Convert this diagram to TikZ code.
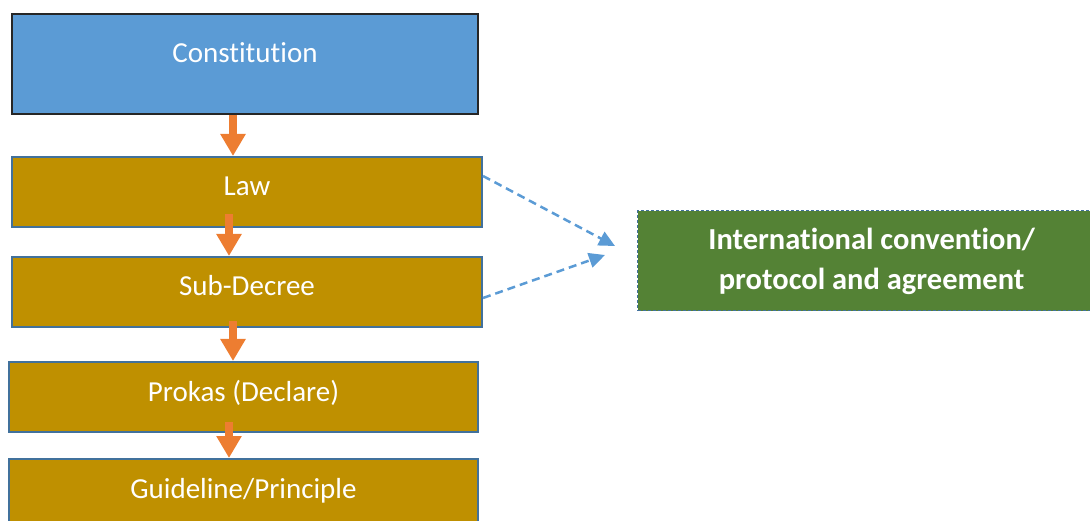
\documentclass[tikz,border=0pt]{standalone}
\usepackage{fontspec}
\setmainfont[Ligatures=NoCommon]{Carlito}
\usetikzlibrary{arrows.meta,positioning}
\usepackage{xcolor}
\definecolor{constblue}{HTML}{5B9BD5}
\definecolor{gold}{HTML}{BF9000}
\definecolor{edgeblue}{HTML}{41719C}
\definecolor{intgreen}{HTML}{548235}
\definecolor{flowor}{HTML}{ED7D31}

\begin{document}
\begin{tikzpicture}[x=1pt,y=-1pt,
    level/.style={draw=edgeblue,line width=2pt,fill=gold,text=white,anchor=north west,
      inner sep=0pt,text height=39pt,text depth=31pt,font=\fontsize{29}{34}\selectfont},
    flow/.style={flowor,line width=8pt,-{Triangle[width=24pt,length=22pt]}},
    link/.style={constblue,line width=2.5pt,dash pattern=on 8pt off 5pt,-{Triangle[width=15pt,length=16pt]}}]
        \useasboundingbox (0,0) rectangle (1090,521);
        % \draw[thin,gray!40] (0,0) grid (1090,521);
        \node[draw=black!85,line width=2pt,fill=constblue,text=white,anchor=north west,inner sep=0pt,
          text height=49pt,text depth=51pt,minimum width=466pt,font=\fontsize{29}{34}\selectfont]
          (const) at (11,13) {Constitution};
        \node[level,minimum width=470pt] (law) at (11,156) {Law};
        \node[level,minimum width=470pt] (sub) at (11,256) {Sub-Decree};
        \node[level,minimum width=469pt] (prokas) at (8,361) {Prokas (Declare)};
        \node[level,minimum width=469pt] (guide) at (8,458) {Guideline/Principle};
        \node[draw=edgeblue,line width=1.2pt,dash pattern=on 3pt off 2pt,fill=intgreen,text=white,
          anchor=north west,minimum width=468pt,minimum height=100pt,align=center,text depth=3pt,
          font=\bfseries\fontsize{30.5}{40}\selectfont] (intl) at (637,210) {International convention/\\protocol and agreement};
        \draw[flow] ([xshift=-12pt]const.south) -- ([xshift=-14pt]law.north);
        \draw[flow] ([xshift=-18pt,yshift=14pt]law.south) -- ([xshift=-18pt]sub.north);
        \draw[flow] ([xshift=-14pt,yshift=7pt]sub.south) -- ([xshift=-10.5pt]prokas.north);
        \draw[flow] ([xshift=-14.5pt,yshift=11pt]prokas.south) -- ([xshift=-14.5pt]guide.north);
        \coordinate (tipa) at (615,246);
        \coordinate (tipb) at (605,255);
        \draw[link] ([yshift=16pt]law.east) -- (tipa);
        \draw[link] ([yshift=-6pt]sub.east) -- (tipb);
      \end{tikzpicture}
\end{document}
